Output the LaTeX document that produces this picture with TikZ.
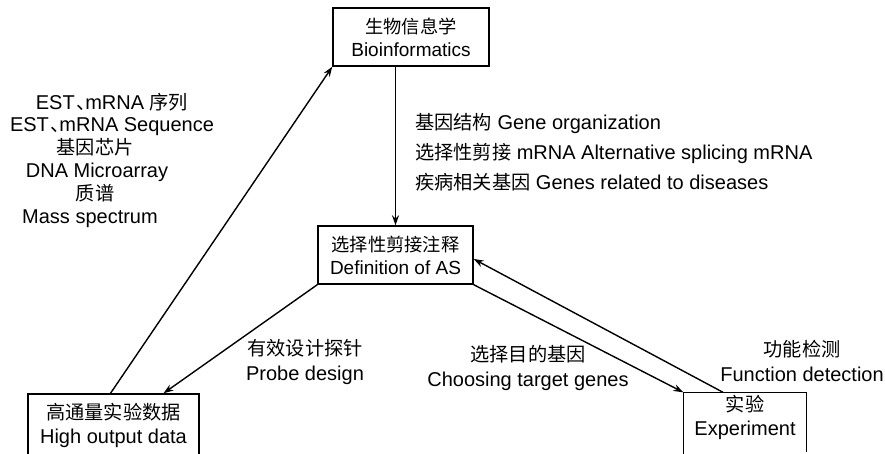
\documentclass[tikz,border=0pt]{standalone}
\usepackage{fontspec}
\setmainfont{Liberation Sans}
\newfontfamily\cjk[Scale=0.96]{Noto Sans CJK SC}
\newcommand\dunhao{{\cjk\hspace{0.1em}、\hspace{-0.55em}}}
\newcommand\padr[1]{\hbox to #1{}}
\usetikzlibrary{calc,arrows.meta}
\begin{document}
\begin{tikzpicture}[x=1pt,y=-1pt,
  box/.style={draw,line width=1.4pt,align=center,font=\fontsize{20pt}{24pt}\selectfont,inner sep=0pt},
  lbl/.style={align=center,inner sep=0pt},
  arr/.style={line width=1.4pt,-{Stealth[length=10pt,width=7pt]}},
]
\useasboundingbox (0,0) rectangle (885,453);
\clip (0,0) rectangle (885,453);
\fill[white] (0,0) rectangle (885,453);

\node[box,font=\fontsize{19pt}{23pt}\selectfont,minimum width=156pt,minimum height=58pt] (bio) at (411,37)
  {{\cjk 生物信息学}\\Bioinformatics};
\node[box,font=\fontsize{19pt}{23pt}\selectfont,minimum width=155pt,minimum height=58pt] (def) at (395.5,255)
  {{\cjk 选择性剪接注释}\\Definition of AS};
\node[box,minimum width=171pt,minimum height=62pt] (high) at (113.5,425)
  {{\cjk 高通量实验数据}\\High output data};
\node[box,draw=none,minimum width=122pt,minimum height=49pt] (exp) at (745,417.5)
  {{\cjk 实验}\\Experiment};
\draw[line width=1.4pt] ($(exp.south west)+(0,30)$) |- (exp.north east) -- ++(0,60);

\node[lbl,font=\fontsize{20pt}{22.8pt}\selectfont] (src) at (112,160)
  {EST\dunhao mRNA {\cjk 序列}\\EST\dunhao mRNA Sequence\\{\cjk 基因芯片}\padr{34pt}\\DNA Microarray\padr{30pt}\\{\cjk 质谱}\padr{34pt}\\Mass spectrum\padr{44pt}};
\node[lbl,align=left,anchor=west,font=\fontsize{20pt}{30pt}\selectfont] (org) at (415,152)
  {{\cjk 基因结构} Gene organization\\{\cjk 选择性剪接} mRNA Alternative splicing mRNA\\{\cjk 疾病相关基因} Genes related to diseases};
\node[lbl,font=\fontsize{20pt}{25pt}\selectfont] (probe) at (305,362)
  {{\cjk 有效设计探针}\\Probe design};
\node[lbl,font=\fontsize{20pt}{25pt}\selectfont] (choose) at (528,367.5)
  {{\cjk 选择目的基因}\\Choosing target genes};
\node[lbl,font=\fontsize{20pt}{25pt}\selectfont] (func) at (802,360.5)
  {{\cjk 功能检测}\\Function detection};

\draw[arr] (def.north |- bio.south) -- (def.north);
\draw[arr] ($(high.north)+(-3,0)$) -- (bio.south west);
\draw[arr] (def.south west) -- ($(high.north)+(50,0)$);
\draw[arr] (def.south east) -- (exp.north west);
\draw[arr] ($(exp.north)+(-22,0)$) -- ($(def.east)+(0,4)$);
\end{tikzpicture}
\end{document}
